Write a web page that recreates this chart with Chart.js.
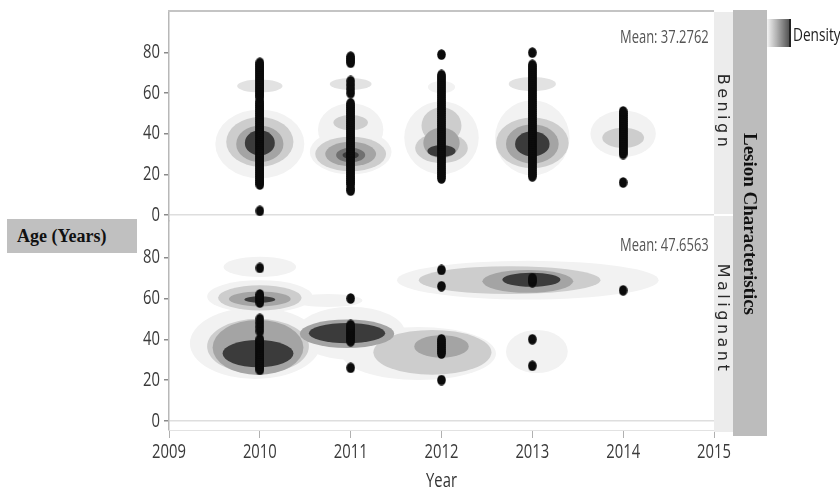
<!DOCTYPE html>
<html>
<head>
<meta charset="utf-8">
<script src="https://cdn.jsdelivr.net/npm/chart.js@4.4.1/dist/chart.umd.min.js"></script>
<style>
  html, body { margin: 0; padding: 0; background: #fff; }
  #wrap { position: relative; width: 840px; height: 496px; overflow: hidden; background: #fff; }
  #chart { position: absolute; left: 0; top: 0; }
  .box { position: absolute; }
  .strip { background: #ececec; }
  .outer-strip { background: #bcbcbc; }
  .rot { position: absolute; white-space: nowrap; transform: translate(-50%, -50%) rotate(90deg); }
  .panel-label { font-family: 'DejaVu Sans', sans-serif; font-size: 16px; letter-spacing: 3.5px; color: #2a2a2a; }
  .group-label { font-family: 'Liberation Serif', 'Times New Roman', serif; font-weight: bold; font-size: 19px; color: #111; }
  .narrow { font-family: 'Open Sans', sans-serif; transform-origin: 0 0; white-space: nowrap; }
  .mean { position: absolute; font-size: 18px; color: #555; transform: scaleX(0.72); }
  #ageTitle { left: 7px; top: 219px; width: 130px; height: 34px; background: #c0c0c0; font-family: 'Liberation Serif', 'Times New Roman', serif; font-weight: bold; font-size: 18px; line-height: 34px; color: #111; box-sizing: border-box; padding-left: 10px; }
  #swatch { left: 767px; top: 19px; width: 24px; height: 28px; background: linear-gradient(to right, #f4f4f4, #b0b0b0 45%, #555 100%); border-right: 2px solid #222; box-sizing: border-box; }
  #densityText { left: 793px; top: 22px; font-size: 18px; color: #222; transform: scaleX(0.76); }
</style>
</head>
<body>
<div id="wrap">
  <canvas id="chart" width="840" height="496"></canvas>

  <div class="box strip" style="left:714px; top:12px; width:19px; height:202px;"></div>
  <div class="box strip" style="left:714px; top:216px; width:19px; height:216px;"></div>
  <div class="box outer-strip" style="left:733px; top:10px; width:34px; height:426px;"></div>

  <div class="rot panel-label" style="left:723px; top:112px;">Benign</div>
  <div class="rot panel-label" style="left:723px; top:319px;">Malignant</div>
  <div class="rot group-label" style="left:750px; top:224px;">Lesion Characteristics</div>

  <div class="box" id="ageTitle">Age (Years)</div>

  <div class="box" id="swatch"></div>
  <div class="box narrow" id="densityText">Density</div>

  <div class="mean narrow" id="meanBenign" style="left:620px; top:24px;"></div>
  <div class="mean narrow" id="meanMalignant" style="left:620px; top:232px;"></div>
</div>

<script>
// Axis ticks
const yearTicks = [2009, 2010, 2011, 2012, 2013, 2014, 2015];
const ageTicks = [0, 20, 40, 60, 80];
const xTitle = 'Year';

// Patient ages by year of diagnosis - benign lesions
const benign2010 = [2, 15, 16, 17, 18, 19, 20, 21, 22, 23, 24, 25, 26, 27, 28, 29, 30, 31, 32, 33, 34, 35, 36, 37, 38, 39, 40, 41, 42, 43, 44, 45, 46, 47, 48, 49, 50, 51, 52, 53, 54, 55, 56, 58, 59, 60, 61, 62, 63, 64, 65, 66, 67, 68, 69, 70, 71, 72, 73, 74, 75];
const benign2011 = [12, 13, 15, 16, 17, 18, 19, 20, 21, 22, 23, 24, 25, 26, 27, 28, 29, 30, 31, 32, 33, 34, 35, 36, 37, 38, 39, 40, 41, 42, 43, 44, 45, 46, 47, 48, 49, 50, 51, 52, 53, 54, 55, 60, 62, 64, 66, 75, 76, 77, 78];
const benign2012 = [18, 19, 20, 21, 22, 23, 24, 25, 26, 27, 28, 29, 30, 31, 32, 33, 34, 35, 36, 37, 38, 39, 40, 41, 42, 43, 44, 45, 46, 47, 48, 49, 50, 51, 52, 53, 54, 55, 56, 57, 58, 59, 60, 61, 62, 63, 64, 65, 66, 67, 68, 69, 79];
const benign2013 = [19, 20, 21, 22, 23, 24, 25, 26, 27, 28, 29, 30, 31, 32, 33, 34, 35, 36, 37, 38, 39, 40, 41, 42, 43, 44, 45, 46, 47, 48, 49, 50, 51, 52, 53, 54, 55, 56, 57, 58, 59, 60, 61, 62, 63, 64, 65, 66, 67, 68, 69, 70, 71, 72, 73, 74, 80];
const benign2014 = [16, 30, 31, 32, 33, 34, 35, 36, 37, 38, 39, 40, 41, 42, 43, 44, 45, 46, 47, 48, 49, 50, 51];

// Patient ages by year of diagnosis - malignant lesions
const malignant2010 = [25, 26, 27, 28, 29, 30, 31, 32, 33, 34, 35, 36, 37, 38, 39, 40, 44, 46, 48, 50, 58, 59, 60, 61, 62, 75];
const malignant2011 = [26, 39, 40, 41, 42, 43, 44, 45, 46, 47, 60];
const malignant2012 = [20, 33, 34, 35, 36, 37, 38, 39, 40, 66, 74];
const malignant2013 = [27, 40, 68, 69, 70];
const malignant2014 = [64];

const benignMean = '37.2762';
const malignantMean = '47.6563';

// Density contour regions: [year, age, half-width (years), half-height (years of age), density level 1-6]
const benignDensity = [
  [2010, 35, 0.49, 17, 1],
  [2010, 63.5, 0.25, 3.2, 2],
  [2010, 36, 0.37, 12.2, 3],
  [2010, 35, 0.26, 9, 4],
  [2010, 35.5, 0.165, 6.2, 6],
  [2011, 31, 0.45, 11, 1],
  [2011, 42, 0.36, 13, 1],
  [2011, 64.5, 0.23, 3, 2],
  [2011, 45.5, 0.19, 3.7, 3],
  [2011, 30, 0.39, 8.5, 3],
  [2011, 30, 0.28, 6, 4],
  [2011, 29.5, 0.16, 3.6, 5],
  [2011, 29.5, 0.09, 1.8, 6],
  [2012, 38, 0.41, 18, 1],
  [2012, 63, 0.15, 3, 1],
  [2012, 33, 0.29, 7.5, 3],
  [2012, 44, 0.22, 9, 3],
  [2012, 35.5, 0.2, 7.5, 4],
  [2012, 31.5, 0.155, 3, 6],
  [2013, 38, 0.41, 18.5, 1],
  [2013, 64.5, 0.26, 3.5, 2],
  [2013, 35.5, 0.4, 12.5, 3],
  [2013, 35, 0.29, 9.7, 4],
  [2013, 35, 0.19, 6.2, 6],
  [2014, 40, 0.36, 11.5, 1],
  [2014, 38, 0.23, 5, 3]
];

const malignantDensity = [
  [2009.95, 38, 0.72, 17.5, 1],
  [2010, 61, 0.58, 8, 1],
  [2010, 75.5, 0.4, 5, 1],
  [2010.75, 59, 0.38, 3.2, 1],
  [2011, 43, 0.6, 13, 1],
  [2011.75, 33, 0.85, 13, 1],
  [2013.05, 34, 0.34, 10.6, 1],
  [2012.95, 69, 1.44, 9.5, 1],
  [2009.98, 36.5, 0.56, 13.5, 3],
  [2010, 60.3, 0.46, 6.2, 3],
  [2011.9, 33.6, 0.65, 11, 3],
  [2012.75, 69, 1.0, 6.8, 3],
  [2009.98, 36, 0.5, 13.5, 4],
  [2010, 59.8, 0.34, 3.6, 4],
  [2010.96, 42.7, 0.52, 7, 4],
  [2012, 36.5, 0.3, 5.5, 4],
  [2012.95, 68.4, 0.5, 5.6, 4],
  [2009.98, 33, 0.39, 6.7, 6],
  [2010, 59.5, 0.17, 1.6, 6],
  [2010.96, 43, 0.42, 5, 6],
  [2012.99, 69.2, 0.32, 3.4, 6]
];

const densityShades = ['#f2f2f2', '#e2e2e2', '#cdcdcd', '#a4a4a4', '#707070', '#3b3b3b'];
const labelFont = '20px "Open Sans", sans-serif';
const labelSqueeze = 0.74;

document.getElementById('meanBenign').textContent = 'Mean: ' + benignMean;
document.getElementById('meanMalignant').textContent = 'Mean: ' + malignantMean;

// Slightly tall dot marker
function makeDot() {
  const c = document.createElement('canvas');
  c.width = 9; c.height = 11;
  const g = c.getContext('2d');
  g.fillStyle = '#0b0b0b';
  g.beginPath();
  g.ellipse(4.5, 5.5, 4.3, 5.3, 0, 0, Math.PI * 2);
  g.fill();
  return c;
}
const dot = makeDot();

function points(year, ages) {
  return ages.map(a => ({ x: year, y: a }));
}

function scatterSet(label, year, ages, axis) {
  return {
    label: label,
    data: points(year, ages),
    yAxisID: axis,
    pointStyle: dot,
    pointRadius: 4.5,
    pointHoverRadius: 4.5,
    showLine: false
  };
}

const datasets = [
  scatterSet('Benign 2010', 2010, benign2010, 'yB'),
  scatterSet('Benign 2011', 2011, benign2011, 'yB'),
  scatterSet('Benign 2012', 2012, benign2012, 'yB'),
  scatterSet('Benign 2013', 2013, benign2013, 'yB'),
  scatterSet('Benign 2014', 2014, benign2014, 'yB'),
  scatterSet('Malignant 2010', 2010, malignant2010, 'yM'),
  scatterSet('Malignant 2011', 2011, malignant2011, 'yM'),
  scatterSet('Malignant 2012', 2012, malignant2012, 'yM'),
  scatterSet('Malignant 2013', 2013, malignant2013, 'yM'),
  scatterSet('Malignant 2014', 2014, malignant2014, 'yM')
];

// Condensed text helper for tick labels and the axis title
function squeezedText(ctx, text, x, y, align) {
  ctx.save();
  ctx.translate(x, y);
  ctx.scale(labelSqueeze, 1);
  ctx.textAlign = align;
  ctx.textBaseline = 'middle';
  ctx.fillText(text, 0, 0);
  ctx.restore();
}

const densityPlugin = {
  id: 'densityContours',
  // Filled density contours, painted from the lowest level up, clipped to each panel
  beforeDatasetsDraw(chart) {
    const { ctx, chartArea, scales } = chart;
    const panels = [[benignDensity, scales.yB], [malignantDensity, scales.yM]];
    for (const [blobs, yScale] of panels) {
      ctx.save();
      ctx.beginPath();
      ctx.rect(chartArea.left, yScale.top, chartArea.right - chartArea.left, yScale.bottom - yScale.top);
      ctx.clip();
      for (let level = 1; level <= densityShades.length; level++) {
        ctx.fillStyle = densityShades[level - 1];
        for (const [yr, age, hw, hh, lv] of blobs) {
          if (lv !== level) continue;
          const cx = scales.x.getPixelForValue(yr);
          const cy = yScale.getPixelForValue(age);
          const rx = Math.abs(scales.x.getPixelForValue(yr + hw) - cx);
          const ry = Math.abs(yScale.getPixelForValue(age + hh) - cy);
          ctx.beginPath();
          ctx.ellipse(cx, cy, rx, ry, 0, 0, Math.PI * 2);
          ctx.fill();
        }
      }
      ctx.restore();
    }
  },
  // Frame top edge, tick labels and axis title
  afterDraw(chart) {
    const { ctx, chartArea, scales } = chart;
    ctx.save();
    ctx.strokeStyle = '#c4c4c4';
    ctx.lineWidth = 2;
    ctx.beginPath();
    ctx.moveTo(chartArea.left - 1, chartArea.top - 1);
    ctx.lineTo(chartArea.right, chartArea.top - 1);
    ctx.stroke();

    ctx.font = labelFont;
    ctx.fillStyle = '#3a3a3a';
    for (const yScale of [scales.yB, scales.yM]) {
      for (const v of ageTicks) {
        squeezedText(ctx, String(v), yScale.right - 9, yScale.getPixelForValue(v), 'right');
      }
    }
    for (const v of yearTicks) {
      squeezedText(ctx, String(v), scales.x.getPixelForValue(v), scales.x.top + 22, 'center');
    }
    ctx.fillStyle = '#333';
    squeezedText(ctx, xTitle, (chartArea.left + chartArea.right) / 2, scales.x.top + 51, 'center');
    ctx.restore();
  }
};

function ageAxis(min, max) {
  return {
    type: 'linear',
    position: 'left',
    stack: 'panels',
    stackWeight: 1,
    min: min,
    max: max,
    afterBuildTicks: s => { s.ticks = ageTicks.map(v => ({ value: v })); },
    afterFit: s => { s.width = 40; },
    ticks: { display: false },
    grid: {
      color: c => (c.tick && c.tick.value === 0 ? '#dedede' : 'rgba(0,0,0,0)'),
      tickColor: '#8a8a8a',
      tickLength: 5,
      lineWidth: 1.5
    },
    border: { display: true, color: '#b8b8b8', width: 1.5 }
  };
}

new Chart(document.getElementById('chart'), {
  type: 'scatter',
  data: { datasets: datasets },
  plugins: [densityPlugin],
  options: {
    responsive: false,
    animation: false,
    devicePixelRatio: 1,
    layout: { padding: { left: 129, right: 126, top: 12, bottom: 0 } },
    plugins: {
      legend: { display: false },
      tooltip: { enabled: false }
    },
    scales: {
      x: {
        type: 'linear',
        position: 'bottom',
        min: 2009,
        max: 2015,
        afterBuildTicks: s => { s.ticks = yearTicks.map(v => ({ value: v })); },
        afterFit: s => { s.height = 66; },
        ticks: { display: false },
        grid: {
          drawOnChartArea: false,
          color: '#b0b0b0',
          tickLength: 8
        },
        border: { display: true, color: '#e2e2e2', width: 1 }
      },
      // the stack fills from the bottom, so the malignant panel is listed first
      yM: ageAxis(-4.5, 98),
      yB: ageAxis(-3, 100)
    }
  }
});
</script>
</body>
</html>
